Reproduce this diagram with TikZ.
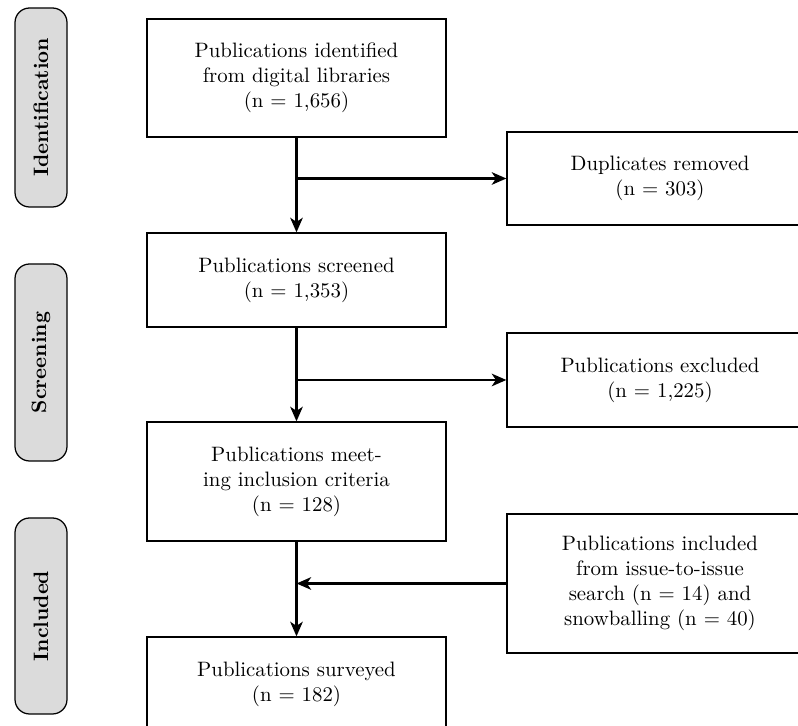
\documentclass[tikz,border=0pt]{standalone}
\usetikzlibrary{arrows.meta}
\newcommand\pxs{0.48pt}
\tikzset{
  mainbox/.style={draw, line width=0.6pt, rectangle, inner sep=0pt, align=center, minimum width=299*\pxs},
  sidebox/.style={draw, line width=0.6pt, fill=black!14, rounded corners=7pt, inner sep=0pt, minimum width=52*\pxs, font=\bfseries},
  sidetext/.style={rotate=90, font=\bfseries},
  flow/.style={line width=1.3pt, -{Stealth[length=7pt,width=6pt,inset=2pt]}},
}
\begin{document}
\begin{tikzpicture}[x=\pxs, y=-\pxs]
\useasboundingbox (0,0) rectangle (798,726);
\clip (0,0) rectangle (798,726);
% side labels
\node[sidebox, minimum height=199*\pxs] (sid) at (41,107.5) {};
\node[sidetext] (tid) at (sid.center) {Identification};
\node[sidebox, minimum height=197*\pxs] (ssc) at (41,362.5) {};
\node[sidetext] (tsc) at (ssc.center) {Screening};
\node[sidebox, minimum height=196*\pxs] (sin) at (41,616) {};
\node[sidetext] (tin) at (sin.center) {Included};
% main boxes
\node[mainbox, minimum height=118*\pxs] (b1) at (296.5,78) {Publications identified\\from digital libraries\\(n = 1,656)};
\node[mainbox, minimum height=94*\pxs] (b2) at (296.5,280) {Publications screened\\(n = 1,353)};
\node[mainbox, minimum height=119*\pxs] (b3) at (296.5,481.5) {Publications meet-\\ing inclusion criteria\\(n = 128)};
\node[mainbox, minimum height=94*\pxs] (b4) at (296.5,684) {Publications surveyed\\(n = 182)};
% right boxes
\node[mainbox, minimum width=306*\pxs, minimum height=93*\pxs] (r1) at (660,178.5) {Duplicates removed\\(n = 303)};
\node[mainbox, minimum width=306*\pxs, minimum height=94*\pxs] (r2) at (660,380) {Publications excluded\\(n = 1,225)};
\node[mainbox, minimum width=306*\pxs, minimum height=139*\pxs] (r3) at (660,583.5) {Publications included\\from issue-to-issue\\search (n = 14) and\\snowballing (n = 40)};
% connectors
\draw[flow] (b1.south) -- (b2.north);
\draw[flow] (b1.south |- r1.west) -- (r1.west);
\draw[flow] (b2.south) -- (b3.north);
\draw[flow] (b2.south |- r2.west) -- (r2.west);
\draw[flow] (b3.south) -- (b4.north);
\draw[flow] (r3.west) -- (r3.west -| b3.south);
\end{tikzpicture}
\end{document}
